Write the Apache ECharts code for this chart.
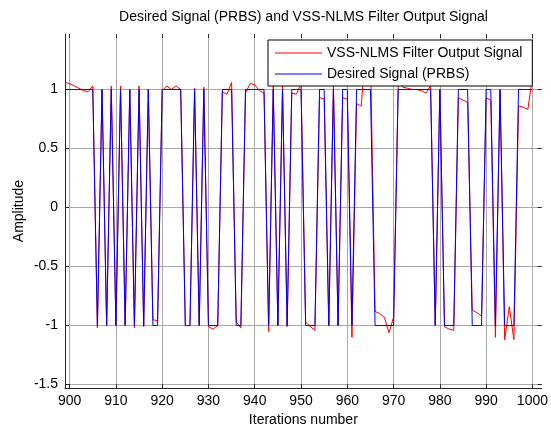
<!DOCTYPE html>
<html>
<head>
<meta charset="utf-8">
<script src="https://cdn.jsdelivr.net/npm/echarts@6/dist/echarts.min.js"></script>
<style>
html, body { margin: 0; padding: 0; background: #fff; }
#chart { width: 551px; height: 432px; }
</style>
</head>
<body>
<div id="chart"></div>
<script>
// iterations 899 .. 1000
var firstIter = 899;
var xTicks = [900, 910, 920, 930, 940, 950, 960, 970, 980, 990, 1000];
var yTicks = [-1.5, -1, -0.5, 0, 0.5, 1];

// desired PRBS signal
var desired = [
    1, 1, 1, 1, 1, 1, 1, -1, 1, -1,
    1, -1, 1, -1, 1, -1, 1, -1, 1, -1,
    -1, 1, 1, 1, 1, 1, -1, -1, 1, -1,
    1, -1, -1, -1, 1, 1, 1, -1, -1, 1,
    1, 1, 1, 1, -1, 1, -1, 1, -1, 1,
    1, 1, -1, -1, -1, 1, 1, -1, 1, -1,
    1, 1, -1, 1, 1, 1, 1, -1, -1, -1,
    -1, -1, 1, 1, 1, 1, 1, 1, 1, 1,
    -1, 1, -1, -1, -1, 1, 1, 1, -1, -1,
    -1, 1, 1, -1, 1, -1, -1, -1, 1, 1,
    1, 1
];

// VSS-NLMS filter output
var output = [
    1.06, 1.05, 1.03, 1.01, 0.99, 0.98, 1.03, -1.02, 1.0, -1.0,
    1.03, -1.0, 1.03, -1.0, 1.0, -1.02, 1.03, -1.01, 1.0, -0.95,
    -0.96, 0.99, 1.03, 1.0, 1.03, 1.0, -1.0, -1.0, 1.01, -1.0,
    1.02, -1.01, -1.03, -1.0, 0.98, 0.96, 1.06, -0.97, -1.02, 0.97,
    1.05, 1.04, 0.99, 0.97, -1.05, 1.03, -1.0, 1.03, -1.01, 0.97,
    0.96, 1.05, -0.97, -1.01, -1.04, 0.93, 0.92, -1.0, 1.04, -1.0,
    0.93, 0.92, -1.1, 0.88, 0.86, 1.35, 1.3, -0.88, -0.9, -0.93,
    -1.06, -0.93, 1.05, 1.02, 1.01, 1.0, 1.0, 0.99, 0.97, 1.03,
    -1.0, 1.0, -1.01, -1.03, -1.04, 0.93, 0.91, 0.89, -0.87, -0.89,
    -0.92, 0.93, 0.91, -1.1, 1.0, -1.12, -0.84, -1.12, 0.86, 0.85,
    0.83, 1.1
];

function pairs(vals) {
    var out = [];
    for (var i = 0; i < vals.length; i++) {
        out.push([firstIter + i, vals[i]]);
    }
    return out;
}

var font = "'Liberation Sans', Arial, sans-serif";
var myChart = echarts.init(document.getElementById('chart'));

var option = {
    backgroundColor: '#fff',
    animation: false,
    title: {
        text: 'Desired Signal (PRBS) and VSS-NLMS Filter Output Signal',
        left: 303.5,
        textAlign: 'center',
        top: 10,
        padding: 0,
        textStyle: { fontFamily: font, fontSize: 14, fontWeight: 'normal', color: '#000' }
    },
    legend: {
        data: ['VSS-NLMS Filter Output Signal', 'Desired Signal (PRBS)'],
        orient: 'vertical',
        left: 268,
        top: 40,
        padding: [6, 10, 5, 7],
        icon: 'rect',
        itemWidth: 47,
        itemHeight: 1,
        itemGap: 7,
        backgroundColor: '#fff',
        borderColor: '#000',
        borderWidth: 1,
        textStyle: { fontFamily: font, fontSize: 14, color: '#000' }
    },
    grid: {
        left: 65,
        top: 34,
        width: 477,
        height: 361,
        containLabel: false
    },
    xAxis: [{
        type: 'value',
        min: 899,
        max: 1002,
        name: 'Iterations number',
        nameLocation: 'middle',
        nameGap: 22,
        nameTextStyle: { fontFamily: font, fontSize: 14, color: '#000', verticalAlign: 'top' },
        axisLine: { onZero: false, lineStyle: { color: '#262626', width: 1 } },
        axisTick: { inside: true, length: 4, customValues: xTicks, lineStyle: { color: '#262626' } },
        axisLabel: {
            customValues: xTicks, margin: 6, fontFamily: font, fontSize: 14, color: '#000',
            formatter: function (v) { return String(v); }
        },
        splitLine: { show: true, lineStyle: { color: '#a8a8a8', width: 1 } }
    }, {
        type: 'value',
        position: 'top',
        min: 899,
        max: 1002,
        axisLine: { show: false, onZero: false },
        axisTick: { inside: true, length: 4, customValues: xTicks, lineStyle: { color: '#262626' } },
        axisLabel: { show: false },
        splitLine: { show: false }
    }],
    yAxis: [{
        type: 'value',
        min: -1.53,
        max: 1.47,
        name: 'Amplitude',
        nameLocation: 'middle',
        nameGap: 39,
        nameMoveOverlap: false,
        nameTextStyle: { fontFamily: font, fontSize: 14, color: '#000' },
        axisLine: { show: true, onZero: false, lineStyle: { color: '#262626', width: 1 } },
        axisTick: { show: true, inside: true, length: 4, customValues: yTicks, lineStyle: { color: '#262626' } },
        axisLabel: { customValues: yTicks, margin: 7, fontFamily: font, fontSize: 14, color: '#000' },
        splitLine: { show: true, lineStyle: { color: '#a8a8a8', width: 1 } }
    }, {
        type: 'value',
        position: 'right',
        min: -1.53,
        max: 1.47,
        axisLine: { show: false, onZero: false },
        axisTick: { show: true, inside: true, length: 4, customValues: yTicks, lineStyle: { color: '#262626' } },
        axisLabel: { show: false },
        splitLine: { show: false }
    }],
    series: [{
        name: 'VSS-NLMS Filter Output Signal',
        type: 'line',
        symbol: 'none',
        xAxisIndex: 0,
        yAxisIndex: 0,
        lineStyle: { color: '#ff0000', width: 1 },
        itemStyle: { color: '#ff0000' },
        data: pairs(output)
    }, {
        name: 'Desired Signal (PRBS)',
        type: 'line',
        symbol: 'none',
        xAxisIndex: 0,
        yAxisIndex: 0,
        lineStyle: { color: '#0000ff', width: 1 },
        itemStyle: { color: '#0000ff' },
        data: pairs(desired)
    }]
};
myChart.setOption(option);
</script>
</body>
</html>
